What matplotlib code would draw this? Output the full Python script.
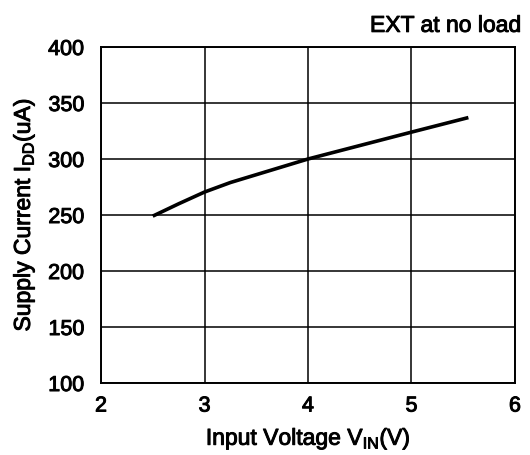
import matplotlib
matplotlib.use("Agg")
import matplotlib.pyplot as plt
import matplotlib.patheffects as pe

plt.rcParams['font.family'] = ['Liberation Sans', 'DejaVu Sans']
plt.rcParams['mathtext.fontset'] = 'custom'
plt.rcParams['mathtext.rm'] = 'Liberation Sans'

# Supply current vs input voltage, EXT pin unloaded
vin = [2.5, 2.75, 3.0, 3.25, 3.5, 4.0, 4.5, 5.0, 5.55]
idd = [249, 260, 270.5, 279, 286, 300, 312, 324, 337]

xticks = [2, 3, 4, 5, 6]
yticks = [100, 150, 200, 250, 300, 350, 400]

# slightly heavier glyphs than plain regular weight
heavy = [pe.withStroke(linewidth=0.7, foreground='black')]

fig = plt.figure(figsize=(5.30, 4.55), dpi=100)
ax = fig.add_axes([0.1906, 0.1582, 0.781, 0.7385])

ax.plot(vin, idd, color='black', linewidth=2.6, solid_capstyle='butt')

ax.set_xlim(2, 6)
ax.set_ylim(100, 400)
ax.set_xticks(xticks)
ax.set_yticks(yticks)
ax.grid(True, color='black', linewidth=1.1)
ax.tick_params(length=0, labelsize=15.5)
ax.tick_params(axis='y', pad=12)
ax.tick_params(axis='x', pad=9)
for lbl in ax.get_xticklabels() + ax.get_yticklabels():
    lbl.set_path_effects(heavy)
for sp in ax.spines.values():
    sp.set_color('black')
    sp.set_linewidth(1.4)

xl = ax.set_xlabel(r'Input Voltage V$_{\mathregular{IN}}$(V)', fontsize=16.5, labelpad=6)
yl = ax.set_ylabel(r'Supply Current I$_{\mathregular{DD}}$(uA)', fontsize=16.5, labelpad=8)
tt = fig.text(0.983, 0.93, 'EXT at no load', fontsize=16.5, ha='right', va='baseline')
for t in (xl, yl, tt):
    t.set_path_effects(heavy)

fig.savefig('out.png', dpi=100)
